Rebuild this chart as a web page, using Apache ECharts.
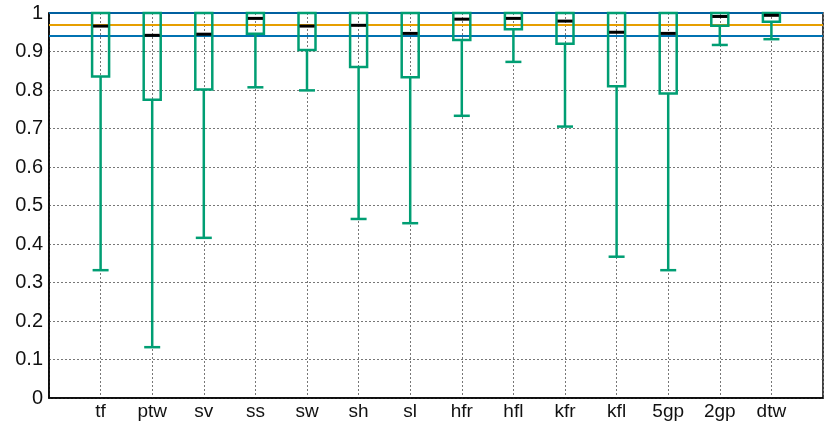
<!DOCTYPE html>
<html>
<head>
<meta charset="utf-8">
<script src="https://cdn.jsdelivr.net/npm/echarts@6/dist/echarts.min.js"></script>
<style>html,body{margin:0;padding:0;background:#fff}#c{width:827px;height:421px}</style>
</head>
<body>
<div id="c"></div>
<script>
const categories = ['tf','ptw','sv','ss','sw','sh','sl','hfr','hfl','kfr','kfl','5gp','2gp','dtw'];
const lowerWhisker = [0.332, 0.132, 0.416, 0.807, 0.799, 0.465, 0.454, 0.733, 0.873, 0.705, 0.367, 0.332, 0.917, 0.932];
const q1Values     = [0.835, 0.775, 0.801, 0.946, 0.904, 0.860, 0.833, 0.930, 0.958, 0.920, 0.810, 0.791, 0.967, 0.977];
const medianValues = [0.966, 0.942, 0.945, 0.986, 0.966, 0.968, 0.947, 0.984, 0.986, 0.979, 0.950, 0.947, 0.991, 0.994];
const q3Values     = [1, 1, 1, 1, 1, 1, 1, 1, 1, 1, 1, 1, 1, 1];
const upperWhisker = [1, 1, 1, 1, 1, 1, 1, 1, 1, 1, 1, 1, 1, 1];
const refLineValues = [1.0, 0.968, 0.935];
const refLineColors = ['#0060A0', '#E69F00', '#0072B2'];

const green = '#009E73';
const boxData = categories.map((c, i) => [i + 1, lowerWhisker[i], q1Values[i], medianValues[i], q3Values[i], upperWhisker[i]]);

const chart = echarts.init(document.getElementById('c'), null, {renderer: 'canvas'});
const font = 'Liberation Sans';
chart.setOption({
  animation: false,
  grid: {left: 49, right: 4, top: 13, bottom: 21, show: true, borderColor: '#000', borderWidth: 1.5, backgroundColor: 'transparent'},
  xAxis: {
    type: 'value', min: 0, max: 15, interval: 1,
    axisLine: {show: true, lineStyle: {color: '#000', width: 1.5}},
    axisTick: {show: false},
    axisLabel: {
      color: '#111', fontFamily: font, fontSize: 19, margin: 4,
      formatter: v => categories[v - 1] || '',
      showMinLabel: true, showMaxLabel: true
    },
    splitLine: {show: true, lineStyle: {color: '#777', type: [2, 2], width: 1}}
  },
  yAxis: {
    type: 'value', min: 0, max: 1, interval: 0.1,
    axisLine: {show: true, lineStyle: {color: '#000', width: 1.5}},
    axisTick: {show: false},
    axisLabel: {color: '#111', fontFamily: font, fontSize: 20, margin: 6,
      formatter: v => (Math.abs(v - 1) < 1e-9 ? '1' : Math.abs(v) < 1e-9 ? '0' : v.toFixed(1))},
    splitLine: {show: true, lineStyle: {color: '#777', type: [2, 2], width: 1}}
  },
  series: [
    {
      type: 'line', data: [], silent: true,
      markLine: {
        silent: true, symbol: 'none', label: {show: false}, z: 3,
        data: refLineValues.map((v, i) => ({yAxis: v, lineStyle: {color: refLineColors[i], width: 2.2, type: 'solid'}}))
      }
    },
    {
      type: 'custom',
      data: boxData,
      z: 5,
      renderItem: function (params, api) {
        const x = api.value(0);
        const lo = api.coord([x, api.value(1)]);
        const q1 = api.coord([x, api.value(2)]);
        const med = api.coord([x, api.value(3)]);
        const q3 = api.coord([x, api.value(4)]);
        const hi = api.coord([x, api.value(5)]);
        const bw = 17, cw = 16, mw = 15;
        const cx = lo[0];
        const ls = {stroke: green, lineWidth: 2.5};
        return {
          type: 'group',
          children: [
            {type: 'line', shape: {x1: cx, y1: q1[1], x2: cx, y2: lo[1]}, style: ls},
            {type: 'line', shape: {x1: cx - cw / 2, y1: lo[1], x2: cx + cw / 2, y2: lo[1]}, style: ls},
            {type: 'line', shape: {x1: cx, y1: q3[1], x2: cx, y2: hi[1]}, style: ls},
            {type: 'rect', shape: {x: cx - bw / 2, y: q3[1], width: bw, height: q1[1] - q3[1]}, style: {fill: 'none', stroke: green, lineWidth: 2.5}},
            {type: 'line', shape: {x1: cx - mw / 2, y1: med[1], x2: cx + mw / 2, y2: med[1]}, style: {stroke: '#000', lineWidth: 3}}
          ]
        };
      }
    }
  ]
});
</script>
</body>
</html>
